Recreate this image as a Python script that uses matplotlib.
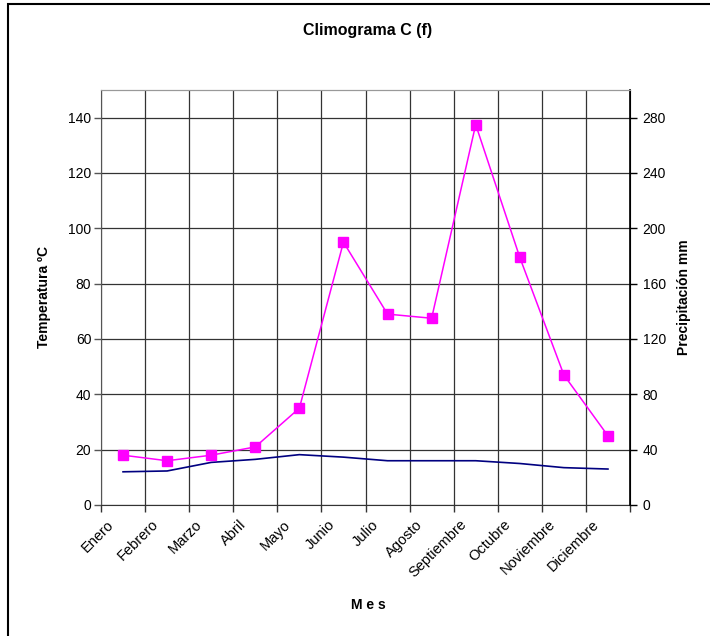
import matplotlib
matplotlib.use("Agg")
import matplotlib.pyplot as plt
from matplotlib.patches import Rectangle
import numpy as np

plt.rcParams['font.family'] = ['Liberation Sans', 'DejaVu Sans']

meses = ["Enero", "Febrero", "Marzo", "Abril", "Mayo", "Junio", "Julio",
         "Agosto", "Septiembre", "Octubre", "Noviembre", "Diciembre"]
temperatura = [12.0, 12.3, 15.4, 16.5, 18.2, 17.3, 16.0, 16.0, 16.0, 15.0, 13.5, 13.0]
precipitacion = [36, 32, 36, 42, 70, 190, 138, 135, 275, 179, 94, 50]
temp_ticks = [0, 20, 40, 60, 80, 100, 120, 140]
prec_ticks = [0, 40, 80, 120, 160, 200, 240, 280]

W, H = 710, 636
fig = plt.figure(figsize=(W / 100, H / 100), dpi=100)
fig.patch.set_facecolor('white')

# outer frame
fig.patches.append(Rectangle((8 / W, -0.05), 1.2, (H - 4) / H + 0.05,
                             transform=fig.transFigure, fill=False,
                             edgecolor='black', lw=1.5))

ax = fig.add_axes([101 / W, (H - 505) / H, 529 / W, 415 / H])
ax2 = ax.twinx()

x = np.arange(len(meses))
ax.plot(x, temperatura, color='#000080', lw=1.2, zorder=3)
ax2.plot(x, precipitacion, color='#FF00FF', lw=1.1, marker='s',
         markersize=6.5, markeredgecolor='#FF00FF', zorder=4)

ax.set_xlim(-0.5, len(meses) - 0.5)
ax.set_ylim(0, 150)
ax2.set_ylim(0, 300)
ax.set_yticks(temp_ticks)
ax2.set_yticks(prec_ticks)

# category boundaries as major ticks + gridlines
bounds = np.arange(len(meses) + 1) - 0.5
ax.set_xticks(bounds)
ax.set_xticklabels([])
for i, m in enumerate(meses):
    ax.annotate(m, xy=(x[i], 0), xycoords=ax.get_xaxis_transform(),
                xytext=(-8, -12.5), textcoords='offset points',
                rotation=45, ha='right', va='center', rotation_mode='anchor',
                fontsize=10.5, annotation_clip=False)
ax.tick_params(axis='x', which='major', length=5, width=1, color='#333333', direction='out')
ax.tick_params(axis='y', length=5, width=1, color='#555555', labelsize=10, pad=2)
ax2.tick_params(axis='y', length=5, width=1, color='black', labelsize=10, pad=4)

ax.grid(True, which='major', color='#333333', lw=0.9)
ax.set_axisbelow(True)

ax.spines['top'].set_color('#999999')
ax2.spines['top'].set_color('#999999')
ax.spines['left'].set_color('#555555')
ax.spines['bottom'].set_color('#333333')
ax2.spines['right'].set_color('black')
ax2.spines['right'].set_linewidth(1.2)
ax2.spines['left'].set_visible(False)
ax2.spines['bottom'].set_visible(False)

ax.set_ylabel('Temperatura ºC', fontsize=10, fontweight='bold', labelpad=12)
ax2.set_ylabel('Precipitación mm', fontsize=10, fontweight='bold', labelpad=8)

fig.text(368 / W, 1 - 30 / H, 'Climograma C (f)', ha='center', va='center',
         fontsize=11.5, fontweight='bold')
fig.text(368 / W, 1 - 605 / H, 'M e s', ha='center', va='center',
         fontsize=10, fontweight='bold')

fig.savefig('out.png', dpi=100, facecolor='white')
